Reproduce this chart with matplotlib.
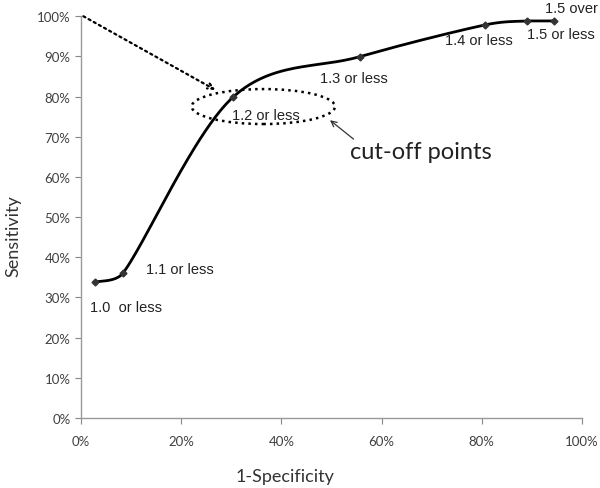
import matplotlib.pyplot as plt
import numpy as np
from matplotlib.patches import Ellipse
from matplotlib.ticker import PercentFormatter

# cut-off points (percent)
fpr = [2.7, 8.4, 30.3, 55.6, 80.6, 89.0, 94.5]
tpr = [33.8, 36.1, 79.8, 89.9, 97.8, 98.8, 98.8]
labels = ['1.0  or less', '1.1 or less', '1.2 or less', '1.3 or less',
          '1.4 or less', '1.5 or less', '1.5 over']
label_pos = [(1.8, 27.6), (12.9, 37.2), (30.1, 75.4), (47.7, 84.7),
             (72.7, 94.1), (89.0, 95.5), (92.6, 102.0)]
xticks = [0, 20, 40, 60, 80, 100]
yticks = list(range(0, 101, 10))


def smooth(xs, ys, n=50):
    # excel-like smooth line; tangents shortened so no overshoot in y
    p = np.column_stack([xs, ys]).astype(float)
    out = []
    for i in range(len(p) - 1):
        p0 = p[i - 1] if i > 0 else p[i]
        p3 = p[i + 2] if i + 2 < len(p) else p[i + 1]
        t1 = (p[i + 1] - p0) / 6
        t2 = (p3 - p[i]) / 6
        lo, hi = sorted([p[i][1], p[i + 1][1]])
        c1 = p[i] + t1
        if not lo <= c1[1] <= hi and t1[1] != 0:
            lim = hi if c1[1] > hi else lo
            c1 = p[i] + t1 * (lim - p[i][1]) / t1[1]
        c2 = p[i + 1] - t2
        if not lo <= c2[1] <= hi and t2[1] != 0:
            lim = hi if c2[1] > hi else lo
            c2 = p[i + 1] - t2 * (p[i + 1][1] - lim) / t2[1]
        t = np.linspace(0, 1, n)[:, None]
        seg = ((1 - t) ** 3 * p[i] + 3 * (1 - t) ** 2 * t * c1
               + 3 * (1 - t) * t ** 2 * c2 + t ** 3 * p[i + 1])
        out.append(seg)
    out = np.vstack(out)
    return out[:, 0], out[:, 1]


fig = plt.figure(figsize=(6, 4.89), dpi=100)
ax = fig.add_axes([0.135, 0.143, 0.835, 0.822])

sx, sy = smooth(fpr, tpr)
ax.plot(sx, sy, color='black', lw=2, zorder=3)
ax.plot(fpr, tpr, 'D', color='#333333', ms=3.5, zorder=4)

for lab, (lx, ly) in zip(labels, label_pos):
    ax.text(lx, ly, lab, fontsize=10.5, family='Liberation Sans',
            color='#222222', va='center', ha='left')

# dotted arrow and ellipse
ax.annotate('', xy=(27.3, 81.3), xytext=(0, 100.3),
            arrowprops=dict(arrowstyle='->', ls=':', lw=1.6, color='black'),
            annotation_clip=False)
ax.add_patch(Ellipse((36.4, 77.5), 28.6, 8.7, fill=False, ls=':',
                     lw=1.8, ec='black'))
ax.annotate('', xy=(49.7, 74.1), xytext=(54.4, 69.4),
            arrowprops=dict(arrowstyle='->', lw=0.9, color='#333333',
                            shrinkA=0, shrinkB=0))
ax.text(53.7, 66.2, 'cut-off points', fontsize=17, family='Lato',
        color='#222222', va='center', ha='left')

ax.set_xlim(0, 100)
ax.set_ylim(0, 100)
ax.set_xticks(xticks)
ax.set_yticks(yticks)
ax.xaxis.set_major_formatter(PercentFormatter(decimals=0))
ax.yaxis.set_major_formatter(PercentFormatter(decimals=0))
for lab in ax.get_xticklabels() + ax.get_yticklabels():
    lab.set_family('Lato')
    lab.set_fontsize(9.5)
    lab.set_color('#404040')
ax.tick_params(length=4, color='#888888', width=0.8)
ax.tick_params(axis='x', pad=8)
for s in ['top', 'right']:
    ax.spines[s].set_visible(False)
for s in ['left', 'bottom']:
    ax.spines[s].set_color('#999999')
    ax.spines[s].set_linewidth(1.0)

fig.text(0.475, 0.025, '1-Specificity', ha='center', va='center',
         family='Lato', fontsize=13, color='#333333')
fig.text(0.022, 0.517, 'Sensitivity', ha='center', va='center',
         rotation=90, family='Lato', fontsize=13, color='#333333')

fig.savefig('out.png', dpi=100)
